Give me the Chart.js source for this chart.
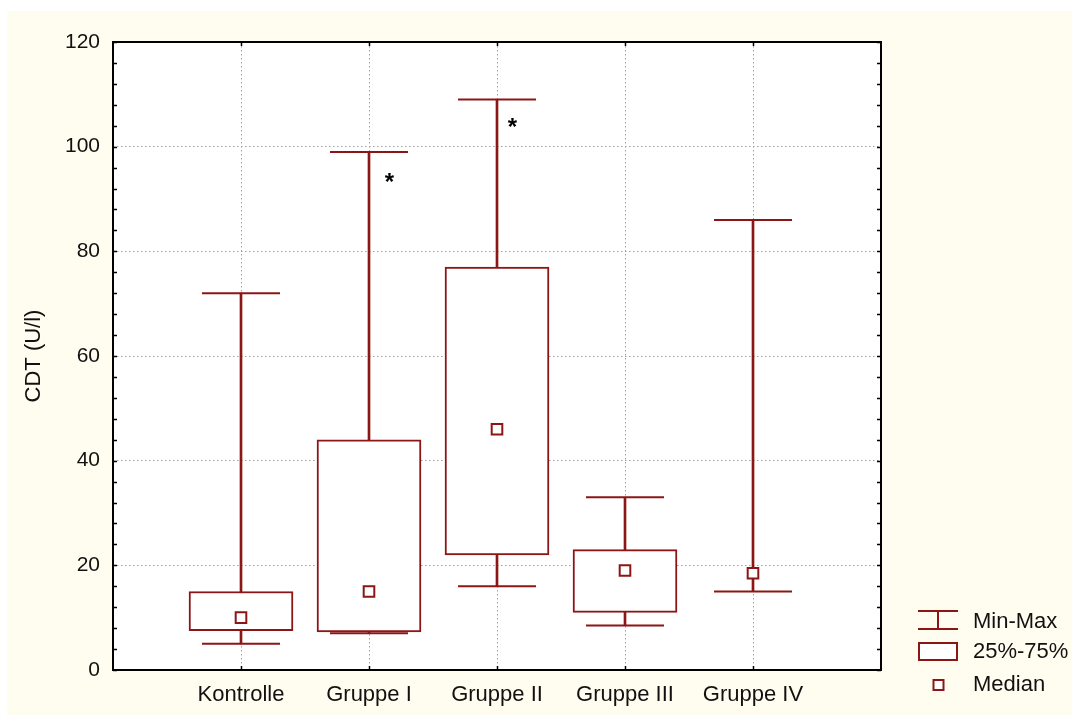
<!DOCTYPE html>
<html>
<head>
    <title>CDT Boxplot</title>
    <meta charset="UTF-8">
    <script src="https://cdn.jsdelivr.net/npm/chart.js"></script>
    <style>
        html, body {
            margin: 0;
            padding: 0;
            background-color: #ffffff;
        }
        #wrap {
            width: 1073px;
            height: 715px;
        }
    </style>
</head>
<body>
    <div id="wrap">
        <canvas id="boxChart" width="1073" height="715"></canvas>
    </div>

    <script>
        // Daten
        const gruppen = ['Kontrolle', 'Gruppe I', 'Gruppe II', 'Gruppe III', 'Gruppe IV'];
        const minWerte = [5, 7, 16, 8.5, 15];
        const q1Werte = [7.5, 7.3, 22, 11, 18.5];
        const medianWerte = [10, 15, 46, 19, 18.5];
        const q3Werte = [15, 44, 77, 23, 18.5];
        const maxWerte = [72, 99, 109, 33, 86];

        // Signifikanz-Sterne (Position in Achseneinheiten)
        const sternX = [2.16, 3.12];
        const sternY = [94.4, 104.9];

        // Achsen
        const yMin = 0;
        const yMax = 120;
        const yHauptSchritt = 20;
        const yNebenSchritt = 4;

        const legendeTexte = ['Min-Max', '25%-75%', 'Median'];

        const ROT = '#8c1616';
        const CREME = '#fffcf0';
        const GITTER = '#a0a0a0';
        const SCHRIFT = "'Liberation Sans', Arial, sans-serif";

        Chart.defaults.font.family = SCHRIFT;
        Chart.defaults.color = '#111111';

        // Hilfsfunktion: Gruppenposition auf der x-Achse
        function pos(i) {
            return i + 1;
        }

        // Hintergrund, Rahmen, Innenstriche, Sterne, Legende
        const rahmenPlugin = {
            id: 'rahmen',
            beforeDraw(chart) {
                const ctx = chart.ctx;
                const a = chart.chartArea;
                ctx.save();
                ctx.fillStyle = CREME;
                ctx.fillRect(7, 11, chart.width - 8, chart.height - 11);
                ctx.fillStyle = '#ffffff';
                ctx.fillRect(a.left, a.top, a.right - a.left, a.bottom - a.top);
                ctx.restore();
            },
            afterDraw(chart) {
                const ctx = chart.ctx;
                const a = chart.chartArea;
                const xs = chart.scales.x;
                const ys = chart.scales.y;
                ctx.save();

                // Rahmen
                ctx.strokeStyle = '#000000';
                ctx.lineWidth = 2;
                ctx.strokeRect(a.left, a.top, a.right - a.left, a.bottom - a.top);

                // Striche nach innen
                ctx.lineWidth = 1.5;
                ctx.beginPath();
                for (let v = yMin; v <= yMax; v += yNebenSchritt) {
                    const y = Math.round(ys.getPixelForValue(v)) + 0.5;
                    ctx.moveTo(a.left, y);
                    ctx.lineTo(a.left + 4, y);
                    ctx.moveTo(a.right, y);
                    ctx.lineTo(a.right - 4, y);
                }
                gruppen.forEach((g, i) => {
                    const x = Math.round(xs.getPixelForValue(pos(i))) + 0.5;
                    ctx.moveTo(x, a.bottom);
                    ctx.lineTo(x, a.bottom - 4);
                    ctx.moveTo(x, a.top);
                    ctx.lineTo(x, a.top + 4);
                });
                ctx.stroke();

                // Sterne
                ctx.fillStyle = '#000000';
                ctx.font = 'bold 24px ' + SCHRIFT;
                ctx.textAlign = 'center';
                ctx.textBaseline = 'alphabetic';
                sternX.forEach((sx, i) => {
                    ctx.fillText('*', xs.getPixelForValue(sx), ys.getPixelForValue(sternY[i]) + 14);
                });

                // Legende
                const lx = a.right + 37;
                const tx = a.right + 92;
                ctx.strokeStyle = ROT;
                ctx.lineWidth = 2;
                ctx.beginPath();
                ctx.moveTo(lx, 611);
                ctx.lineTo(lx + 40, 611);
                ctx.moveTo(lx, 629);
                ctx.lineTo(lx + 40, 629);
                ctx.moveTo(lx + 20, 611);
                ctx.lineTo(lx + 20, 629);
                ctx.stroke();
                ctx.fillStyle = '#ffffff';
                ctx.fillRect(lx + 1, 643, 38, 17);
                ctx.strokeRect(lx + 1, 643, 38, 17);
                ctx.fillRect(lx + 15.5, 680, 10, 10);
                ctx.strokeRect(lx + 15.5, 680, 10, 10);

                ctx.fillStyle = '#111111';
                ctx.font = '22px ' + SCHRIFT;
                ctx.textAlign = 'left';
                ctx.textBaseline = 'middle';
                ctx.fillText(legendeTexte[0], tx, 622);
                ctx.fillText(legendeTexte[1], tx, 652);
                ctx.fillText(legendeTexte[2], tx, 685);

                ctx.restore();
            }
        };

        new Chart(document.getElementById('boxChart'), {
            type: 'bar',
            data: {
                datasets: [
                    {
                        // Whisker (Min bis Max)
                        type: 'bar',
                        data: gruppen.map((g, i) => ({ x: pos(i), y: [minWerte[i], maxWerte[i]] })),
                        backgroundColor: ROT,
                        borderWidth: 0,
                        barThickness: 2,
                        grouped: false,
                        order: 4
                    },
                    {
                        // Box 25%-75%
                        type: 'bar',
                        data: gruppen.map((g, i) => ({
                            x: pos(i),
                            y: q3Werte[i] > q1Werte[i] ? [q1Werte[i], q3Werte[i]] : null
                        })),
                        backgroundColor: '#ffffff',
                        borderColor: ROT,
                        borderWidth: 2,
                        borderSkipped: false,
                        barThickness: 104,
                        grouped: false,
                        order: 3
                    },
                    {
                        // Querstriche Min und Max
                        type: 'scatter',
                        data: gruppen.flatMap((g, i) => [
                            { x: pos(i), y: minWerte[i] },
                            { x: pos(i), y: maxWerte[i] }
                        ]),
                        showLine: false,
                        pointStyle: 'line',
                        pointRadius: 39,
                        borderColor: ROT,
                        pointBorderColor: ROT,
                        pointBorderWidth: 2,
                        order: 2
                    },
                    {
                        // Median
                        type: 'scatter',
                        data: gruppen.map((g, i) => ({ x: pos(i), y: medianWerte[i] })),
                        showLine: false,
                        pointStyle: 'rect',
                        pointRadius: 7.5,
                        pointBackgroundColor: '#ffffff',
                        pointBorderColor: ROT,
                        pointBorderWidth: 2,
                        order: 1
                    }
                ]
            },
            options: {
                responsive: false,
                animation: false,
                events: [],
                layout: {
                    padding: { left: 0, top: 42, right: 192, bottom: 0 }
                },
                plugins: {
                    legend: { display: false },
                    tooltip: { enabled: false }
                },
                scales: {
                    x: {
                        type: 'linear',
                        offset: false,
                        min: 0,
                        max: gruppen.length + 1,
                        afterFit: function(scale) {
                            scale.height = 45;
                        },
                        grid: {
                            drawTicks: false,
                            offset: false,
                            lineWidth: 1,
                            color: function(c) {
                                const v = c.tick ? c.tick.value : 0;
                                return (v >= 1 && v <= gruppen.length) ? GITTER : 'rgba(0,0,0,0)';
                            }
                        },
                        border: { display: false, dash: [1.5, 2.5] },
                        ticks: {
                            stepSize: 1,
                            autoSkip: false,
                            maxRotation: 0,
                            padding: 12,
                            font: { size: 22 },
                            callback: function(value) {
                                return gruppen[value - 1] || '';
                            }
                        }
                    },
                    y: {
                        type: 'linear',
                        min: yMin,
                        max: yMax,
                        afterFit: function(scale) {
                            scale.width = 113;
                        },
                        grid: {
                            drawTicks: false,
                            lineWidth: 1,
                            color: function(c) {
                                const v = c.tick ? c.tick.value : 0;
                                return (v % yHauptSchritt === 0 && v > yMin && v < yMax) ? GITTER : 'rgba(0,0,0,0)';
                            }
                        },
                        border: { display: false, dash: [1.5, 2.5] },
                        ticks: {
                            stepSize: yNebenSchritt,
                            autoSkip: false,
                            padding: 13,
                            font: { size: 21 },
                            callback: function(value) {
                                return value % yHauptSchritt === 0 ? value : '';
                            }
                        },
                        title: {
                            display: true,
                            text: 'CDT (U/l)',
                            font: { size: 22 },
                            padding: { top: 21, bottom: 0 }
                        }
                    }
                }
            },
            plugins: [rahmenPlugin]
        });
    </script>
</body>
</html>
